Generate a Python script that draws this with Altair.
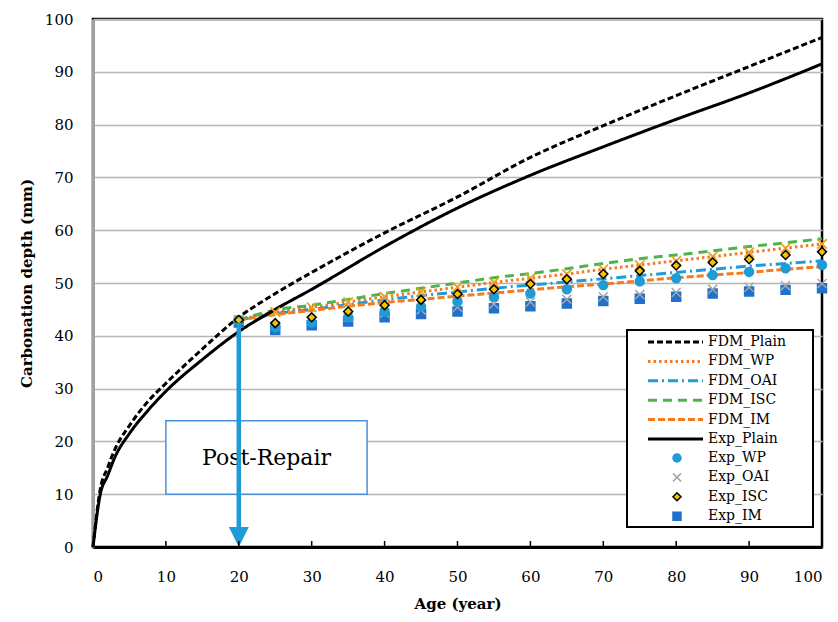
import altair as alt
import pandas as pd

# ---------------- data ----------------
age_fdm = [20, 25, 30, 35, 40, 45, 50, 55, 60, 65, 70, 75, 80, 85, 90, 95, 100]
fdm_wp = [43.0, 44.5, 45.4, 46.4, 47.4, 48.3, 49.2, 50.1, 50.9, 51.7, 52.6, 53.4, 54.2, 55.0, 55.8, 56.6, 57.4]
fdm_oai = [43.0, 44.2, 45.0, 45.9, 46.8, 47.6, 48.3, 49.0, 49.6, 50.2, 50.8, 51.4, 52.0, 52.6, 53.2, 53.7, 54.2]
fdm_isc = [43.0, 44.9, 45.8, 46.9, 48.0, 49.0, 50.0, 51.0, 51.8, 52.7, 53.7, 54.6, 55.3, 56.1, 56.9, 57.6, 58.4]
fdm_im = [43.0, 44.0, 44.8, 45.6, 46.3, 46.9, 47.5, 48.1, 48.7, 49.3, 49.8, 50.4, 51.0, 51.5, 52.0, 52.6, 53.1]

age_plain = [0, 1, 2, 3, 5, 7.5, 10, 15, 20, 25, 30, 40, 50, 60, 70, 80, 90, 100]
fdm_plain = [0, 11.0, 15.0, 18.5, 23.0, 27.5, 31.0, 37.5, 43.5, 48.0, 52.0, 59.5, 66.3, 73.8, 79.8, 85.5, 91.0, 96.5]
exp_plain = [0, 10.0, 13.5, 17.0, 21.5, 25.8, 29.5, 35.5, 40.8, 45.0, 48.8, 56.9, 64.2, 70.4, 75.8, 81.0, 86.0, 91.5]

age_exp = [20, 25, 30, 35, 40, 45, 50, 55, 60, 65, 70, 75, 80, 85, 90, 95, 100]
exp_wp = [43.0, 41.6, 42.5, 43.5, 44.6, 45.5, 46.5, 47.4, 48.0, 48.8, 49.6, 50.3, 50.9, 51.5, 52.1, 52.8, 53.4]
exp_oai = [43.0, 41.9, 42.8, 43.5, 44.3, 44.9, 45.4, 46.0, 46.4, 46.9, 47.4, 47.8, 48.2, 48.8, 49.2, 49.5, 49.9]
exp_isc = [43.0, 42.4, 43.5, 44.6, 45.8, 46.8, 47.9, 48.8, 49.8, 50.7, 51.7, 52.3, 53.3, 53.9, 54.5, 55.3, 55.9]
exp_im = [42.5, 41.1, 42.0, 42.7, 43.5, 44.1, 44.6, 45.2, 45.6, 46.1, 46.6, 47.0, 47.4, 48.0, 48.4, 48.7, 49.0]

x_ticks = [0, 10, 20, 30, 40, 50, 60, 70, 80, 90, 100]

# annotation (Post-Repair box and arrow), in data units
repair_age = [20]
arrow_top = [42.5]
arrow_bottom = [3.5]
arrow_head = [1.9]
box_x = [10, 37.6]
box_y = [10, 23.9]
box_text = ["Post-Repair"]

line_series = ["FDM_Plain", "FDM_WP", "FDM_OAI", "FDM_ISC", "FDM_IM", "Exp_Plain"]
line_colors = ["#000000", "#f47b20", "#1f9bd7", "#4cb548", "#f47b20", "#000000"]
line_dashes = [[6, 3], [2.5, 3], [10, 4, 2, 4], [9, 6], [7, 3], [1, 0]]

pt_series = ["Exp_WP", "Exp_OAI", "Exp_ISC", "Exp_IM"]
pt_fill = ["#1f9bd7", "#a6a6a6", "#f5c400", "#2070cc"]
pt_stroke = ["#1f9bd7", "#a6a6a6", "#000000", "#2070cc"]
x_path = "M-1,-1L1,1M-1,1L1,-1"
pt_shapes = ["circle", x_path, "diamond", "square"]

FONT = "DejaVu Serif"

# ---------------- frames ----------------
rows = []
for s, ys in [("FDM_WP", fdm_wp), ("FDM_OAI", fdm_oai), ("FDM_ISC", fdm_isc), ("FDM_IM", fdm_im)]:
    for a, v in zip(age_fdm, ys):
        rows.append({"age": a, "depth": v, "series": s})
for s, ys in [("FDM_Plain", fdm_plain), ("Exp_Plain", exp_plain)]:
    for a, v in zip(age_plain, ys):
        rows.append({"age": a, "depth": v, "series": s})
lines_df = pd.DataFrame(rows)

prow = []
for s, ys in [("Exp_IM", exp_im), ("Exp_OAI", exp_oai), ("Exp_WP", exp_wp), ("Exp_ISC", exp_isc)]:
    for a, v in zip(age_exp, ys):
        prow.append({"age": a, "depth": v, "exp": s})
pts_df = pd.DataFrame(prow)

wp_marks_df = pd.DataFrame({"age": age_fdm, "depth": fdm_wp})
ticks_df = pd.DataFrame({"age": x_ticks})
arrow_df = pd.DataFrame({"age": repair_age, "depth": arrow_top, "depth2": arrow_bottom})
head_df = pd.DataFrame({"age": repair_age, "depth": arrow_head})
box_df = pd.DataFrame({"age": [box_x[0]], "age2": [box_x[1]], "depth": [box_y[0]], "depth2": [box_y[1]]})
text_df = pd.DataFrame({"age": [(box_x[0] + box_x[1]) / 2], "depth": [(box_y[0] + box_y[1]) / 2], "t": box_text})

# ---------------- scales / axes ----------------
xs = alt.Scale(domain=[0, 100], nice=False, zero=True)
ys = alt.Scale(domain=[0, 100], nice=False, zero=True)
x_axis = alt.Axis(title="Age (year)", values=x_ticks, grid=False, ticks=False, labelPadding=22,
                  titlePadding=12, domainColor="#000000", domainWidth=3,
                  labelFont=FONT, labelFontSize=15, labelColor="#000000",
                  titleFont=FONT, titleFontSize=15, titleFontWeight="bold", titleColor="#000000")
y_axis = alt.Axis(title="Carbonation depth (mm)", values=x_ticks, grid=True, ticks=False, labelPadding=20,
                  titlePadding=10, domainColor="#a0a0a0", domainWidth=3,
                  gridColor="#b5b5b5", gridWidth=1.5,
                  labelFont=FONT, labelFontSize=15, labelColor="#000000",
                  titleFont=FONT, titleFontSize=15, titleFontWeight="bold", titleColor="#000000")

X = alt.X("age:Q", scale=xs, axis=x_axis)
Y = alt.Y("depth:Q", scale=ys, axis=y_axis)

line_legend = alt.Legend(title=None, orient="none", legendX=553.5, legendY=315, padding=0,
                         symbolType="stroke", symbolSize=3025, symbolStrokeWidth=3,
                         symbolOffset=0, labelOffset=3.5, clipHeight=16, rowPadding=3.4,
                         labelFont=FONT, labelFontSize=14, labelColor="#000000")
pt_legend = alt.Legend(title=None, orient="none", legendX=577, legendY=431, padding=0,
                       symbolSize=64, symbolStrokeWidth=1.5, symbolOffset=0, labelOffset=24,
                       clipHeight=16, rowPadding=3.4,
                       labelFont=FONT, labelFontSize=14, labelColor="#000000")

# ---------------- layers ----------------
box = alt.Chart(box_df).mark_rect(fill="white", stroke="#4a90d9", strokeWidth=1.5).encode(
    x=X, x2="age2:Q", y=Y, y2="depth2:Q")

lines = alt.Chart(lines_df).mark_line(strokeWidth=3, interpolate="monotone").encode(
    x=X, y=Y,
    color=alt.Color("series:N", scale=alt.Scale(domain=line_series, range=line_colors), legend=line_legend),
    strokeDash=alt.StrokeDash("series:N", scale=alt.Scale(domain=line_series, range=line_dashes), legend=line_legend),
)

wp_marks = alt.Chart(wp_marks_df).mark_point(shape=x_path, size=90, stroke="#f0a020", strokeWidth=1.8,
                                              filled=False, opacity=1).encode(x=X, y=Y)

points = alt.Chart(pts_df).mark_point(size=80, strokeWidth=1.5, opacity=1, filled=True).encode(
    x=X, y=Y,
    shape=alt.Shape("exp:N", scale=alt.Scale(domain=pt_series, range=pt_shapes), legend=pt_legend),
    fill=alt.Fill("exp:N", scale=alt.Scale(domain=pt_series, range=pt_fill), legend=pt_legend),
    stroke=alt.Stroke("exp:N", scale=alt.Scale(domain=pt_series, range=pt_stroke), legend=pt_legend),
)

text = alt.Chart(text_df).mark_text(font=FONT, fontSize=22, color="#000000").encode(
    x=X, y=Y, text="t:N")

arrow = alt.Chart(arrow_df).mark_rule(strokeWidth=4.5, color="#1e9bd7").encode(x=X, y=Y, y2="depth2:Q")
head = alt.Chart(head_df).mark_point(shape="M-1,-1L1,-1L0,1Z", size=400, filled=True, color="#1e9bd7",
                                     opacity=1).encode(x=X, y=Y)

ticks = alt.Chart(ticks_df).mark_rule(color="#000000", strokeWidth=1.5).encode(
    x=X, y=alt.value(528), y2=alt.value(522))

legend_box = alt.Chart(ticks_df).mark_rect(fill="white", stroke="#000000", strokeWidth=2).encode(
    x=alt.value(534), x2=alt.value(720), y=alt.value(311), y2=alt.value(508))

chart = alt.layer(box, text, lines, wp_marks, points, arrow, head, ticks, legend_box).properties(
    width=729, height=528,
    background="white",
    autosize=alt.AutoSizeParams(type="none"),
    padding={"left": 93, "top": 19, "right": 16, "bottom": 75},
).configure_view(
    stroke="#000000", strokeWidth=2.5
)

chart.save("out.html", embed_options={"renderer": "svg", "actions": False})
